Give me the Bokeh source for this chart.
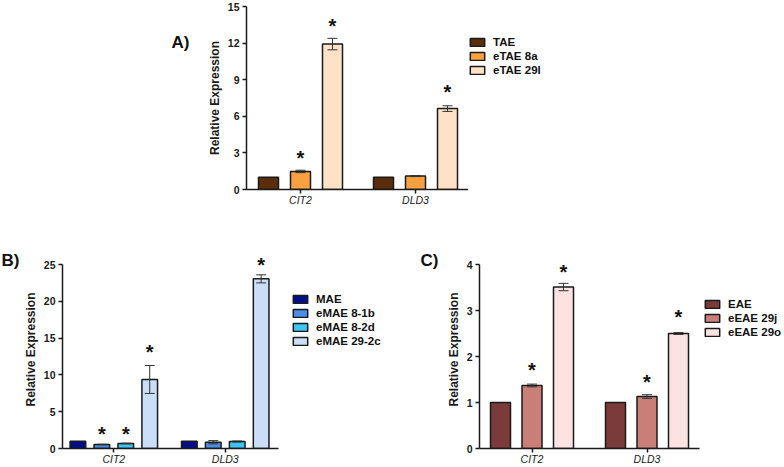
from bokeh.plotting import figure
from bokeh.models import (Range1d, FixedTicker, ColumnDataSource, Whisker, TeeHead,
                          Legend, LegendItem, Spacer)
from bokeh.layouts import row, column
from bokeh.embed import file_html
from bokeh.resources import INLINE
from bokeh.core.properties import value

NaN = float("nan")
genes = ["CIT2", "DLD3"]

# ---------------- Panel A ----------------
a_series = ["TAE", "eTAE 8a", "eTAE 29l"]
a_tae = [1.0, 1.0]
a_etae_8a = [1.48, 1.10]
a_etae_29l = [11.92, 6.63]
a_tae_err = [0.0, 0.0]
a_etae_8a_err = [0.10, 0.04]
a_etae_29l_err = [0.47, 0.23]
a_tae_star = [NaN, NaN]
a_etae_8a_star = [2.77, NaN]
a_etae_29l_star = [13.6, 8.2]
a_colors = ["#5a2d0c", "#f9a040", "#fde2c8"]
a_yticks = [0, 3, 6, 9, 12, 15]

# ---------------- Panel B ----------------
b_series = ["MAE", "eMAE 8-1b", "eMAE 8-2d", "eMAE 29-2c"]
b_mae = [1.0, 1.0]
b_emae_8_1b = [0.54, 0.85]
b_emae_8_2d = [0.68, 0.95]
b_emae_29_2c = [9.38, 23.05]
b_mae_err = [0.0, 0.0]
b_emae_8_1b_err = [0.04, 0.22]
b_emae_8_2d_err = [0.04, 0.07]
b_emae_29_2c_err = [1.9, 0.55]
b_mae_star = [NaN, NaN]
b_emae_8_1b_star = [2.34, NaN]
b_emae_8_2d_star = [2.34, NaN]
b_emae_29_2c_star = [13.5, 25.3]
b_colors = ["#000e8c", "#4b8fe6", "#3ec3f5", "#cadff7"]
b_yticks = [0, 5, 10, 15, 20, 25]

# ---------------- Panel C ----------------
c_series = ["EAE", "eEAE 29j", "eEAE 29o"]
c_eae = [1.0, 1.0]
c_eeae_29j = [1.37, 1.13]
c_eeae_29o = [3.51, 2.50]
c_eae_err = [0.0, 0.0]
c_eeae_29j_err = [0.03, 0.04]
c_eeae_29o_err = [0.08, 0.02]
c_eae_star = [NaN, NaN]
c_eeae_29j_star = [1.76, 1.51]
c_eeae_29o_star = [3.89, 2.92]
c_colors = ["#7b3b3b", "#c97f78", "#fde2e2"]
c_yticks = [0, 1, 2, 3, 4]

FONT = "Liberation Sans"
INK = "#1a1a1a"


def blank(width, height):
    f = figure(width=width, height=height, output_backend="svg", toolbar_location=None,
               x_range=Range1d(0, 1), y_range=Range1d(0, 1), min_border=0,
               x_axis_location=None, y_axis_location=None)
    f.outline_line_color = None
    f.xgrid.visible = False
    f.ygrid.visible = False
    return f


def tag_fig(tag, width, height):
    f = blank(width, height)
    f.text(x=[0.5], y=[0.5], text=[tag], text_font=value(FONT), text_font_size="17px",
           text_font_style="bold", text_align="center", text_baseline="alphabetic",
           y_offset=0, text_color="#111111")
    return f


def legend_fig(series, colors, width):
    f = blank(width, len(series) * 14 + 10)
    items = []
    for name, col in zip(series, colors):
        # legend proxy with no drawable point; only its swatch is shown
        r = f.vbar(x=[NaN], top=[NaN], width=0.1, fill_color=col, line_color=INK,
                   line_width=1.5)
        items.append(LegendItem(label=name, renderers=[r]))
    leg = Legend(items=items, location="top_left", orientation="vertical",
                 glyph_width=18, glyph_height=10, label_height=12,
                 label_standoff=7, spacing=2, padding=0, margin=0,
                 border_line_color=None, background_fill_alpha=0,
                 label_text_font=FONT, label_text_font_size="11.5px",
                 label_text_font_style="bold", label_text_color="#111111",
                 label_text_baseline="middle")
    f.add_layout(leg)
    return f


def panel(series, values, errors, stars, colors, yticks, geom, borders):
    fw, fh, extra, spacing, off, pitch, bw = geom
    left, right, top, bottom = borders
    ymax = yticks[-1]
    ypx = fh / ymax
    p = figure(width=left + fw + right, height=top + fh + extra + bottom,
               output_backend="svg", toolbar_location=None,
               x_range=Range1d(-off / spacing, (fw - off) / spacing),
               y_range=Range1d(0, (fh + extra) / ypx),
               min_border_left=left, min_border_right=right,
               min_border_top=top, min_border_bottom=bottom)
    p.outline_line_color = None
    p.xgrid.visible = False
    p.ygrid.visible = False

    for ax in (p.xaxis[0], p.yaxis[0]):
        ax.axis_line_color = INK
        ax.axis_line_width = 1.5
        ax.major_tick_line_color = INK
        ax.major_tick_line_width = 1.5
        ax.major_tick_out = 4
        ax.major_tick_in = 0
        ax.minor_tick_line_color = None
        ax.major_label_text_font = FONT
        ax.major_label_text_color = INK
    p.xaxis.ticker = FixedTicker(ticks=list(range(len(genes))))
    p.xaxis.major_label_overrides = {i: g for i, g in enumerate(genes)}
    p.xaxis.major_label_text_font_style = "italic"
    p.xaxis.major_label_text_font_size = "10.5px"
    p.xaxis.major_label_standoff = 0
    p.yaxis.ticker = FixedTicker(ticks=yticks)
    p.yaxis.bounds = (0, ymax)
    p.yaxis.major_label_text_font_style = "bold"
    p.yaxis.major_label_text_font_size = "10.5px"
    p.yaxis.major_label_standoff = 3
    p.yaxis.axis_label = "Relative Expression"
    p.yaxis.axis_label_text_font = FONT
    p.yaxis.axis_label_text_font_size = "12px"
    p.yaxis.axis_label_text_font_style = "bold"
    p.yaxis.axis_label_text_color = INK
    p.yaxis.axis_label_standoff = 3

    n = len(series)
    for i, (vals, errs, st, col) in enumerate(zip(values, errors, stars, colors)):
        dx = (i - (n - 1) / 2) * pitch / spacing
        xs = [g + dx for g in range(len(genes))]
        src = ColumnDataSource(dict(x=xs, top=vals, gene=genes))
        p.vbar(x="x", top="top", width=bw / spacing, source=src,
               fill_color=col, line_color=INK, line_width=1.5)
        ex = [x for x, e in zip(xs, errs) if e > 0]
        if ex:
            up = [v + e for v, e in zip(vals, errs) if e > 0]
            lo = [v - e for v, e in zip(vals, errs) if e > 0]
            wsrc = ColumnDataSource(dict(base=ex, upper=up, lower=lo))
            w = Whisker(base="base", upper="upper", lower="lower", source=wsrc,
                        line_color="#333333", line_width=1, level="overlay",
                        upper_head=TeeHead(size=10, line_color="#333333", line_width=1),
                        lower_head=TeeHead(size=10, line_color="#333333", line_width=1))
            p.add_layout(w)
        sx = [x for x, s in zip(xs, st) if s == s]
        sy = [s for s in st if s == s]
        if sx:
            p.text(x=sx, y=sy, text=["*"] * len(sx), text_font=value(FONT),
                   text_font_size="20px", text_font_style="bold",
                   text_align="center", text_baseline="alphabetic", y_offset=2.5,
                   text_color="#111111")
    return p


pA = panel(a_series, [a_tae, a_etae_8a, a_etae_29l],
           [a_tae_err, a_etae_8a_err, a_etae_29l_err],
           [a_tae_star, a_etae_8a_star, a_etae_29l_star], a_colors, a_yticks,
           geom=(222, 183, 0, 115, 54, 32, 20), borders=(54, 0, 6, 36))

pB = panel(b_series, [b_mae, b_emae_8_1b, b_emae_8_2d, b_emae_29_2c],
           [b_mae_err, b_emae_8_1b_err, b_emae_8_2d_err, b_emae_29_2c_err],
           [b_mae_star, b_emae_8_1b_star, b_emae_8_2d_star, b_emae_29_2c_star],
           b_colors, b_yticks,
           geom=(221, 184, 14, 114, 52.5, 24.5, 16), borders=(37, 13, 25, 19))

pC = panel(c_series, [c_eae, c_eeae_29j, c_eeae_29o],
           [c_eae_err, c_eeae_29j_err, c_eeae_29o_err],
           [c_eae_star, c_eeae_29j_star, c_eeae_29o_star], c_colors, c_yticks,
           geom=(220, 184, 14, 115, 52.5, 31.5, 20), borders=(37, 4, 25, 19))

top_row = row(
    Spacer(width=168, height=225),
    column(Spacer(width=24, height=22), tag_fig("A)", 24, 40)),
    pA,
    column(Spacer(width=80, height=36), legend_fig(a_series, a_colors, 80)),
)
bottom_row = row(
    column(Spacer(width=20, height=15), tag_fig("B)", 20, 40)),
    pB,
    column(Spacer(width=125, height=68), legend_fig(b_series, b_colors, 125)),
    column(Spacer(width=26, height=15), tag_fig("C)", 26, 40)),
    pC,
    column(Spacer(width=81, height=73), legend_fig(c_series, c_colors, 81)),
)
layout = column(top_row, bottom_row)
open("out.html", "w").write(file_html(layout, INLINE))
